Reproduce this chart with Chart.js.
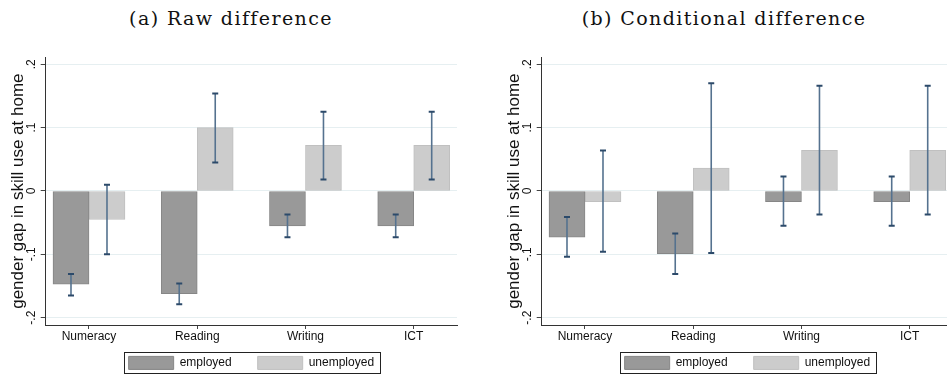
<!DOCTYPE html>
<html lang="en">
<head>
  <meta charset="UTF-8">
  <title>Gender gap in skill use at home</title>
  <script src="https://cdn.jsdelivr.net/npm/chart.js"></script>
  <style>
    body {
      margin: 0;
      background: #ffffff;
      width: 947px;
      height: 376px;
      overflow: hidden;
      position: relative;
    }
    .caption {
      position: absolute;
      top: 9px;
      font-family: 'DejaVu Serif', serif;
      font-size: 19px;
      line-height: 1;
      letter-spacing: 1.4px;
      text-align: center;
      color: #111;
    }
    .panel {
      position: absolute;
      top: 40px;
    }
  </style>
</head>
<body>
  <div class="caption" style="left: 0; width: 462px;">(a) Raw difference</div>
  <div class="caption" style="left: 500px; width: 448px;">(b) Conditional difference</div>

  <canvas id="rawChart" class="panel" style="left: 0;" width="500" height="353"></canvas>
  <canvas id="condChart" class="panel" style="left: 496px;" width="500" height="353"></canvas>

  <script>
    const categories = ['Numeracy', 'Reading', 'Writing', 'ICT'];
    const seriesNames = ['employed', 'unemployed'];
    const yTicks = [-0.2, -0.1, 0, 0.1, 0.2];
    const yTickLabels = ['-.2', '-.1', '0', '.1', '.2'];

    // (a) raw difference
    const rawEmployed = [-0.147, -0.162, -0.055, -0.055];
    const rawEmployedLow = [-0.165, -0.179, -0.073, -0.073];
    const rawEmployedHigh = [-0.131, -0.146, -0.037, -0.037];
    const rawUnemployed = [-0.045, 0.100, 0.072, 0.072];
    const rawUnemployedLow = [-0.100, 0.045, 0.018, 0.018];
    const rawUnemployedHigh = [0.010, 0.154, 0.125, 0.125];

    // (b) conditional difference
    const condEmployed = [-0.073, -0.099, -0.017, -0.017];
    const condEmployedLow = [-0.104, -0.131, -0.055, -0.055];
    const condEmployedHigh = [-0.041, -0.067, 0.023, 0.023];
    const condUnemployed = [-0.017, 0.036, 0.064, 0.064];
    const condUnemployedLow = [-0.096, -0.098, -0.037, -0.037];
    const condUnemployedHigh = [0.064, 0.170, 0.166, 0.166];

    const fontFamily = "'Liberation Sans', Arial, sans-serif";
    const legendLift = 13;

    function points(values) {
      return values.map((v, i) => ({ x: i + 1, y: v }));
    }

    // whiskers for the confidence intervals
    const errorBars = {
      id: 'errorBars',
      afterDatasetsDraw(chart) {
        const ctx = chart.ctx;
        const y = chart.scales.y;
        ctx.save();
        chart.data.datasets.forEach((ds, di) => {
          chart.getDatasetMeta(di).data.forEach((bar, i) => {
            const top = y.getPixelForValue(ds.ciHigh[i]);
            const bottom = y.getPixelForValue(ds.ciLow[i]);
            ctx.strokeStyle = '#55728f';
            ctx.lineWidth = 1.6;
            ctx.beginPath();
            ctx.moveTo(bar.x, top);
            ctx.lineTo(bar.x, bottom);
            ctx.stroke();
            ctx.strokeStyle = '#2c4a6a';
            ctx.lineWidth = 2;
            ctx.beginPath();
            ctx.moveTo(bar.x - 3, top);
            ctx.lineTo(bar.x + 3, top);
            ctx.moveTo(bar.x - 3, bottom);
            ctx.lineTo(bar.x + 3, bottom);
            ctx.stroke();
          });
        });
        ctx.restore();
      }
    };

    // legend sits tight under the axis labels, with a thin frame round it
    const legendFrame = {
      id: 'legendFrame',
      afterLayout(chart) {
        chart.legend.top -= legendLift;
        chart.legend.bottom -= legendLift;
      },
      afterDraw(chart) {
        const boxes = chart.legend.legendHitBoxes;
        if (!boxes || !boxes.length) return;
        const first = boxes[0];
        const last = boxes[boxes.length - 1];
        const ctx = chart.ctx;
        ctx.save();
        ctx.strokeStyle = '#222';
        ctx.lineWidth = 1;
        const left = Math.round(first.left - 4.5) + 0.5;
        const right = Math.round(last.left + last.width + 5.5) + 0.5;
        const top = Math.round(first.top - 4.5) + 0.5;
        const bottom = Math.round(first.top + first.height + 3.5) + 0.5;
        ctx.strokeRect(left, top, right - left, bottom - top);
        ctx.restore();
      }
    };

    function makeChart(id, emp, empLow, empHigh, unemp, unempLow, unempHigh) {
      const ctx = document.getElementById(id).getContext('2d');
      return new Chart(ctx, {
        type: 'bar',
        data: {
          datasets: [{
            label: seriesNames[0],
            data: points(emp),
            ciLow: empLow,
            ciHigh: empHigh,
            backgroundColor: '#999999',
            borderColor: '#868686',
            borderWidth: 1,
            borderSkipped: false
          }, {
            label: seriesNames[1],
            data: points(unemp),
            ciLow: unempLow,
            ciHigh: unempHigh,
            backgroundColor: '#cccccc',
            borderColor: '#c0c0c0',
            borderWidth: 1,
            borderSkipped: false
          }]
        },
        options: {
          responsive: false,
          animation: false,
          barThickness: 36,
          layout: {
            padding: { left: 7.7, right: 43, top: 17.3, bottom: 0.6 }
          },
          plugins: {
            legend: {
              position: 'bottom',
              fullSize: false,
              labels: {
                boxWidth: 45,
                boxHeight: 13,
                padding: 26,
                color: '#111',
                font: { family: fontFamily, size: 12 }
              }
            },
            tooltip: { enabled: false }
          },
          scales: {
            x: {
              type: 'linear',
              offset: false,
              bounds: 'data',
              min: 0.6,
              max: 4.4,
              afterBuildTicks: axis => {
                axis.ticks = categories.map((c, i) => ({ value: i + 1 }));
              },
              ticks: {
                autoSkip: false,
                maxRotation: 0,
                padding: 0,
                color: '#111',
                font: { family: fontFamily, size: 12 },
                callback: value => categories[Math.round(value) - 1]
              },
              grid: {
                offset: false,
                drawOnChartArea: false,
                tickLength: 4,
                tickColor: '#444'
              },
              border: { color: '#333', width: 1 }
            },
            y: {
              min: -0.2116,
              max: 0.211,
              afterBuildTicks: axis => {
                axis.ticks = yTicks.map(v => ({ value: v }));
              },
              ticks: {
                minRotation: 90,
                maxRotation: 90,
                crossAlign: 'center',
                padding: 2,
                color: '#111',
                font: { family: fontFamily, size: 12, lineHeight: 1 },
                callback: value => yTickLabels[yTicks.indexOf(value)]
              },
              grid: {
                color: '#e6eff1',
                tickLength: 5,
                tickColor: '#444'
              },
              border: { color: '#333', width: 1 },
              title: {
                display: true,
                text: 'gender gap in skill use at home',
                color: '#111',
                font: { family: fontFamily, size: 17, lineHeight: 1 },
                padding: { top: 2, bottom: -2 }
              }
            }
          }
        },
        plugins: [errorBars, legendFrame]
      });
    }

    makeChart('rawChart', rawEmployed, rawEmployedLow, rawEmployedHigh,
      rawUnemployed, rawUnemployedLow, rawUnemployedHigh);
    makeChart('condChart', condEmployed, condEmployedLow, condEmployedHigh,
      condUnemployed, condUnemployedLow, condUnemployedHigh);
  </script>
</body>
</html>
